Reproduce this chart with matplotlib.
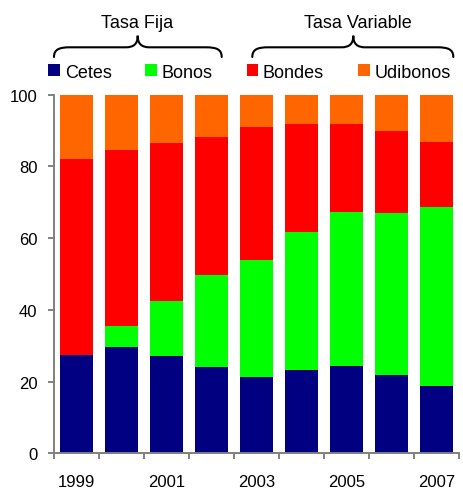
import numpy as np
import matplotlib
matplotlib.use("Agg")
import matplotlib.pyplot as plt
from matplotlib.path import Path
from matplotlib.patches import PathPatch

plt.rcParams['font.family'] = ['Liberation Sans', 'DejaVu Sans']

years = [1999, 2000, 2001, 2002, 2003, 2004, 2005, 2006, 2007]
year_labels = ['1999', '', '2001', '', '2003', '', '2005', '', '2007']
series = ['Cetes', 'Bonos', 'Bondes', 'Udibonos']
colors = ['#000080', '#00ff00', '#ff0000', '#ff6600']

cetes = [27.5, 29.7, 27.2, 24.2, 21.4, 23.2, 24.4, 21.9, 18.9]
bonos = [0.0, 5.8, 15.4, 25.6, 32.5, 38.5, 42.9, 45.2, 49.9]
bondes = [54.6, 49.1, 43.9, 38.5, 37.2, 30.2, 24.6, 22.8, 18.1]
udibonos = [17.9, 15.4, 13.5, 11.7, 8.9, 8.1, 8.1, 10.1, 13.1]

groups = ['Tasa Fija', 'Tasa Variable']

W, H = 463, 489


def px(x, y):
    return x / W, 1 - y / H


fig = plt.figure(figsize=(W / 100, H / 100), dpi=100)
ax = fig.add_axes([54 / W, 1 - 454.3 / H, 405 / W, 358.6 / H])

x = np.arange(len(years))
bottom = np.zeros(len(years))
handles = []
for name, vals, c in zip(series, [cetes, bonos, bondes, udibonos], colors):
    b = ax.bar(x, vals, width=0.73, bottom=bottom, color=c, label=name)
    bottom += np.array(vals)
    handles.append(b)

ax.set_xlim(-0.5, len(years) - 0.5)
ax.set_ylim(0, 100)
ax.set_yticks(np.arange(0, 101, 20))
ax.set_xticks(x)
ax.set_xticklabels(year_labels)
ax.set_xticks(np.arange(-0.5, len(years)), minor=True)
ax.tick_params(axis='x', which='major', length=0, pad=15, labelsize=12)
ax.tick_params(axis='x', which='minor', length=4, width=1.4, color='#808080')
ax.tick_params(axis='y', length=4, width=1.4, color='#808080', pad=8, labelsize=12)
for s in ['top', 'right']:
    ax.spines[s].set_visible(False)
for s in ['left', 'bottom']:
    ax.spines[s].set_color('#808080')
    ax.spines[s].set_linewidth(1.4)

fig.legend(handles=handles, labels=series, loc='center left',
           bbox_to_anchor=px(48.3, 73), bbox_transform=fig.transFigure,
           ncol=4, frameon=False, fontsize=13, handlelength=0.66,
           handleheight=0.66, handletextpad=0.25, columnspacing=1.87,
           borderpad=0, borderaxespad=0)


def brace(x0, x1, xm, ybot=58, ymid=48.3, ytop=36.7):
    verts = [
        (x0, ybot),
        (x0, 50.5), (x0 + 5, ymid), (x0 + 16, ymid),
        (xm - 12, ymid),
        (xm - 4, ymid), (xm, 45), (xm, ytop),
        (xm, 45), (xm + 4, ymid), (xm + 12, ymid),
        (x1 - 16, ymid),
        (x1 - 5, ymid), (x1, 50.5), (x1, ybot),
    ]
    codes = [Path.MOVETO,
             Path.CURVE4, Path.CURVE4, Path.CURVE4,
             Path.LINETO,
             Path.CURVE4, Path.CURVE4, Path.CURVE4,
             Path.CURVE4, Path.CURVE4, Path.CURVE4,
             Path.LINETO,
             Path.CURVE4, Path.CURVE4, Path.CURVE4]
    path = Path([px(*v) for v in verts], codes)
    fig.add_artist(PathPatch(path, transform=fig.transFigure, fill=False,
                             lw=1.5, edgecolor='black', capstyle='round'))


brace(54, 221.7, 137.7)
brace(252.3, 453.3, 353.3)
fig.text(*px(137.5, 28.5), groups[0], ha='center', va='baseline', fontsize=13)
fig.text(*px(357.5, 28.5), groups[1], ha='center', va='baseline', fontsize=13)

fig.savefig('out.png', dpi=100)
